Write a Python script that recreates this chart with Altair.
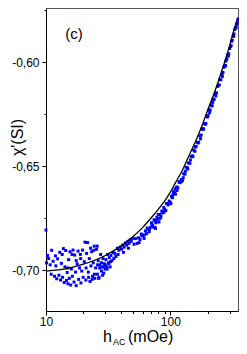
import altair as alt
import pandas as pd

# fitted curve
fit_h = [10, 15, 20, 30, 40, 50, 60, 70, 80, 90, 100, 110, 125, 140, 160, 180, 200, 225, 250, 275, 300, 325, 350]
fit_chi = [-0.7005, -0.6992, -0.6972, -0.6930, -0.6885, -0.6840, -0.6795, -0.6750, -0.6708, -0.6668,
           -0.6625, -0.6580, -0.6520, -0.6455, -0.6380, -0.6305, -0.6230, -0.6150, -0.6070, -0.5995,
           -0.5920, -0.5845, -0.5785]

# low-field noisy measurements
low_h = [10.0, 10.1, 10.3, 10.5, 10.8, 11.1, 11.4, 11.7, 11.9, 12.2, 12.4, 12.7, 12.9,
         13.1, 13.3, 13.6, 13.8, 14.0, 14.2, 14.4, 14.6, 14.8, 15.0, 15.2, 15.4, 15.6, 15.8,
         16.0, 16.3, 16.5, 16.8, 17.0, 17.3, 17.5, 17.8, 18.1, 18.3, 18.6, 18.9, 19.1, 19.4, 19.7, 19.9,
         20.3, 20.6, 20.9, 21.2, 21.6, 21.9, 22.3, 22.6, 23.0, 23.3, 23.7, 24.0, 24.4, 24.7,
         25.1, 25.5, 25.9, 26.3, 26.7, 27.1, 27.5, 27.9, 28.3, 28.7, 29.1, 29.5, 29.9,
         30.3, 30.8, 31.3, 31.8, 32.3, 32.8, 33.3, 33.9, 34.5, 35.1, 35.8, 36.5,
         26.0, 27.0, 28.0, 29.0, 30.0, 31.0, 32.0, 33.0, 28.5, 26.5, 24.5, 23.5, 22.0, 21.0,
         19.0, 17.5, 16.2, 15.0, 13.5, 12.0, 11.0, 25.8, 24.2, 22.8,
         37.5, 38.5, 39.5, 40.5, 41.5, 42.5, 43.5, 44.5, 45.5, 46.5, 47.5, 48.5, 49.5, 38.0, 42.0, 46.0]
low_chi = [-0.6808, -0.6965, -0.6930, -0.6945, -0.6975, -0.6905, -0.6958, -0.7030, -0.6932, -0.7042, -0.6946, -0.7025, -0.6915,
           -0.7048, -0.6968, -0.7035, -0.6897, -0.7060, -0.6985, -0.6906, -0.7050, -0.7012, -0.7066, -0.6950, -0.7040, -0.6912, -0.7072,
           -0.6995, -0.7030, -0.6904, -0.7058, -0.6928, -0.7010, -0.7075, -0.6970, -0.6909, -0.7045, -0.6990, -0.6925, -0.7062, -0.7005, -0.6904, -0.7035,
           -0.6960, -0.6866, -0.7048, -0.6920, -0.6868, -0.7010, -0.6945, -0.7055, -0.6980, -0.6912, -0.7030, -0.6965, -0.6885, -0.7040,
           -0.6990, -0.6900, -0.7020, -0.6955, -0.7035, -0.6975, -0.6925, -0.7005, -0.6985, -0.6945, -0.7015, -0.6970, -0.6995,
           -0.6950, -0.6985, -0.6925, -0.6965, -0.6940, -0.6985, -0.6930, -0.6955, -0.6915, -0.6945, -0.6920, -0.6935,
           -0.6975, -0.6990, -0.6965, -0.6985, -0.6975, -0.6995, -0.6970, -0.6960, -0.7025, -0.7040, -0.7020, -0.7045, -0.7035, -0.6990,
           -0.6945, -0.6955, -0.6925, -0.6990, -0.6925, -0.6980, -0.7020, -0.6885, -0.6905, -0.6895,
           -0.6895, -0.6905, -0.6890, -0.6900, -0.6880, -0.6890, -0.6870, -0.6880, -0.6862, -0.6872, -0.6855, -0.6862, -0.6848,
           -0.6925, -0.6915, -0.6895]

# higher-field measurements (tight band under the fit)
band_h = [51, 52.5, 54, 55.5, 57, 58.5, 60, 61.5, 63, 64.5, 66, 67.5, 69, 70.5, 72, 73.5, 75, 76.5, 78, 79.5,
          81, 82.5, 84, 85.5, 87, 88.5, 90, 92, 94, 96, 98, 100, 102, 104, 106, 108, 110, 112.5, 115, 117.5,
          120, 122.5, 125, 128, 131, 134, 137, 140, 143.5, 147, 150.5, 154, 157.5, 161, 165, 169, 173, 177,
          181, 185, 189, 193, 197, 201, 205, 209, 213, 217, 221, 225, 230, 235, 240, 245, 250, 255, 260, 265,
          270, 275, 280, 285, 290, 295, 300, 305, 310, 315, 320, 325, 330, 335, 340, 345, 349,
          56, 59, 62, 65, 68, 71, 74, 77, 80, 83, 86, 89, 93, 97, 101, 105, 109, 113, 118, 123, 127, 132,
          138, 145, 152, 159, 167, 175, 183, 191, 199, 207, 219, 232, 247, 262, 278, 293, 308, 323, 338, 75, 76]
band_chi = [-0.6876, -0.6849, -0.6872, -0.6845, -0.6853, -0.6827, -0.6835, -0.6848, -0.6812, -0.6825,
            -0.6803, -0.6816, -0.6795, -0.6773, -0.6787, -0.6795, -0.6764, -0.6773, -0.6746, -0.6755,
            -0.6769, -0.6733, -0.6742, -0.6716, -0.6725, -0.6699, -0.6708, -0.6714, -0.6680, -0.6687,
            -0.6668, -0.6675, -0.6646, -0.6652, -0.6623, -0.6629, -0.6635, -0.6600, -0.6605, -0.6575,
            -0.6580, -0.6565, -0.6570, -0.6537, -0.6539, -0.6506, -0.6508, -0.6485, -0.6487, -0.6454,
            -0.6451, -0.6423, -0.6429, -0.6406, -0.6386, -0.6386, -0.6356, -0.6351, -0.6321, -0.6321,
            -0.6296, -0.6296, -0.6261, -0.6257, -0.6229, -0.6231, -0.6208, -0.6211, -0.6178, -0.6180,
            -0.6154, -0.6148, -0.6117, -0.6111, -0.6085, -0.6085, -0.6060, -0.6050, -0.6025, -0.6020,
            -0.5995, -0.5985, -0.5965, -0.5960, -0.5935, -0.5925, -0.5900, -0.5895, -0.5875, -0.5865,
            -0.5843, -0.5836, -0.5819, -0.5812, -0.5797,
            -0.6868, -0.6835, -0.6831, -0.6798, -0.6804, -0.6781, -0.6758, -0.6761, -0.6733, -0.6751,
            -0.6719, -0.6722, -0.6680, -0.6678, -0.6681, -0.6638, -0.6610, -0.6618, -0.6578, -0.6573,
            -0.6556, -0.6525, -0.6514, -0.6471, -0.6455, -0.6409, -0.6389, -0.6369, -0.6324, -0.6299,
            -0.6264, -0.6243, -0.6194, -0.6163, -0.6110, -0.6069, -0.6016, -0.5971, -0.5921, -0.5876,
            -0.5834, -0.6795, -0.6800]

x_ticks = [10, 20, 30, 40, 50, 60, 70, 80, 90, 100, 200, 300]
y_ticks = [-0.575, -0.6, -0.625, -0.65, -0.675, -0.7]

pts = pd.DataFrame({"h": low_h + band_h, "chi": low_chi + band_chi})
fit = pd.DataFrame({"h": fit_h, "chi": fit_chi})

xscale = alt.Scale(type="log", domain=[10, 350], nice=False)
yscale = alt.Scale(domain=[-0.7197, -0.5740], nice=False, zero=False)

FONT = "Liberation Sans"

xaxis = alt.Axis(
    values=x_ticks,
    labelExpr="(datum.value == 10 || datum.value == 100) ? format(datum.value, 'd') : ''",
    tickSize={"condition": {"test": "datum.value == 10 || datum.value == 100", "value": 4}, "value": 2.5},
    labelPadding=1, labelFontSize=12, labelFont=FONT, labelColor="black",
    grid=False, title=None, domainColor="black", tickColor="black", labelFlush=False,
)
yaxis = alt.Axis(
    values=y_ticks,
    labelExpr="abs(datum.value*20 - round(datum.value*20)) < 0.001 ? replace(replace(format(datum.value, '.2f'), '.', ','), '\u2212', '-') : ''",
    tickSize={"condition": {"test": "abs(datum.value*20 - round(datum.value*20)) < 0.001", "value": 4}, "value": 2},
    labelPadding=3, labelFontSize=12, labelFont=FONT, labelColor="black",
    grid=False, domainColor="black", tickColor="black",
    title="\u03c7'(SI)", titleFont=FONT, titleFontSize=16, titleFontWeight="normal", titleColor="black",
    titleAngle=270, titleX=-29, titleY=129, titleAlign="center", titleBaseline="middle",
)

points = alt.Chart(pts).mark_square(size=9, color="#0000ff", opacity=1).encode(
    x=alt.X("h:Q", scale=xscale, axis=xaxis),
    y=alt.Y("chi:Q", scale=yscale, axis=yaxis),
)
curve = alt.Chart(fit).mark_line(color="black", strokeWidth=1.3, interpolate="monotone").encode(
    x=alt.X("h:Q", scale=xscale),
    y=alt.Y("chi:Q", scale=yscale),
)

def label(txt, x, y, size, align="left", baseline="alphabetic"):
    return alt.Chart(pd.DataFrame({"t": [txt]})).mark_text(
        font=FONT, fontSize=size, color="black", align=align, baseline=baseline
    ).encode(text="t:N", x=alt.value(x), y=alt.value(y))

panel = label("(c)", 28, 26, 15, align="center", baseline="middle")
xt1 = label("h", 57, 334, 16)
xt2 = label("AC", 67, 337, 9)
xt3 = label("(mOe)", 82, 334, 16)

chart = alt.layer(points, curve, panel, xt1, xt2, xt3).properties(
    width=192, height=303,
    autosize=alt.AutoSizeParams(type="none"),
    padding={"left": 38, "top": 0, "right": 1, "bottom": 35},
).configure_view(stroke="#555555", strokeWidth=1)

chart.save("out.html", embed_options={"renderer": "svg", "actions": False})
